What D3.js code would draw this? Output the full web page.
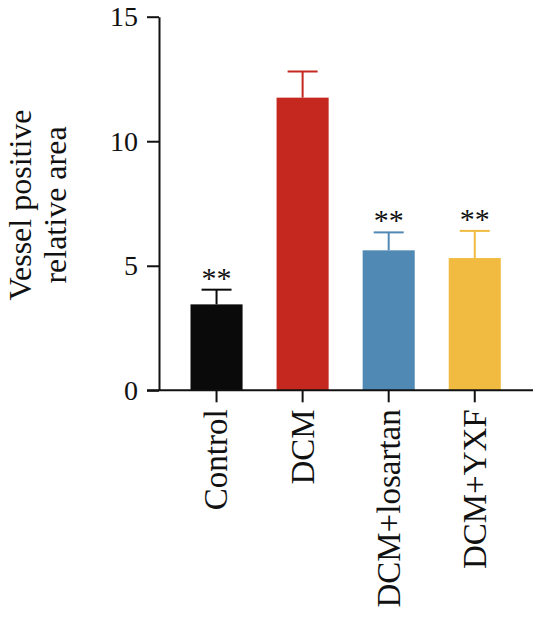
<!DOCTYPE html>
<html lang="en">
<head>
    <meta charset="UTF-8">
    <title>Vessel positive relative area</title>
    <script src="https://d3js.org/d3.v7.min.js"></script>
    <style>
        body { margin: 0; padding: 0; background: #fff; }
        svg text { font-family: "Liberation Serif", "Times New Roman", serif; fill: #111; }
        .axis path, .axis line { stroke: #111; stroke-width: 2; }
    </style>
</head>
<body>
    <div id="chart"></div>
    <script>
        const groups = ["Control", "DCM", "DCM+losartan", "DCM+YXF"];
        const means = [3.45, 11.75, 5.62, 5.31];
        const errors = [0.59, 1.05, 0.72, 1.09];
        const stars = ["**", "", "**", "**"];
        const colors = ["#0a0a0a", "#c4281f", "#5189b5", "#f0bb40"];
        const yTicks = [0, 5, 10, 15];

        const W = 535, H = 618;
        const svg = d3.select("#chart").append("svg")
            .attr("width", W).attr("height", H);

        const y = d3.scaleLinear().domain([0, 15]).range([390.3, 16.7]);
        const x = d3.scaleBand().domain(groups).range([173.5, 517.8])
            .paddingInner(0.395).paddingOuter(0.1975);
        const axisX = 159;

        // y axis
        svg.append("g").attr("class", "axis")
            .attr("transform", `translate(${axisX},0)`)
            .call(d3.axisLeft(y).tickValues(yTicks).tickSize(12).tickPadding(9).tickSizeOuter(0))
            .call(g => g.selectAll("text").attr("font-size", 28));

        // bars
        svg.selectAll("rect.bar").data(groups).join("rect")
            .attr("class", "bar")
            .attr("x", d => x(d))
            .attr("width", x.bandwidth())
            .attr("y", (d, i) => y(means[i]))
            .attr("height", (d, i) => y(0) - y(means[i]))
            .attr("fill", (d, i) => colors[i]);

        // error bars (upper only)
        const eb = svg.selectAll("g.err").data(groups).join("g").attr("class", "err");
        eb.append("line")
            .attr("x1", d => x(d) + x.bandwidth() / 2)
            .attr("x2", d => x(d) + x.bandwidth() / 2)
            .attr("y1", (d, i) => y(means[i]))
            .attr("y2", (d, i) => y(means[i] + errors[i]))
            .attr("stroke", (d, i) => colors[i]).attr("stroke-width", 2);
        eb.append("line")
            .attr("x1", d => x(d) + x.bandwidth() / 2 - 15)
            .attr("x2", d => x(d) + x.bandwidth() / 2 + 15)
            .attr("y1", (d, i) => y(means[i] + errors[i]))
            .attr("y2", (d, i) => y(means[i] + errors[i]))
            .attr("stroke", (d, i) => colors[i]).attr("stroke-width", 2);

        // significance marks
        svg.selectAll("text.star").data(groups).join("text")
            .attr("class", "star")
            .attr("x", d => x(d) + x.bandwidth() / 2)
            .attr("y", (d, i) => y(means[i] + errors[i]) - 2)
            .attr("text-anchor", "middle")
            .attr("font-size", 30)
            .text((d, i) => stars[i]);

        // x axis
        const gx = svg.append("g").attr("class", "axis")
            .attr("transform", `translate(0,${y(0)})`)
            .call(d3.axisBottom(x).tickSize(12).tickSizeOuter(0));
        gx.select("path.domain").attr("d", `M${axisX - 12},0H533`);
        gx.selectAll("text")
            .attr("font-size", 33)
            .attr("transform", "rotate(-90)")
            .attr("text-anchor", "end")
            .attr("x", -19).attr("y", 0).attr("dy", "0.33em");

        // y title
        const title = svg.append("text")
            .attr("transform", "translate(0,205) rotate(-90)")
            .attr("text-anchor", "middle")
            .attr("font-size", 32);
        title.append("tspan").attr("x", 0).attr("y", 31).text("Vessel positive");
        title.append("tspan").attr("x", 0).attr("y", 66).text("relative area");
    </script>
</body>
</html>
